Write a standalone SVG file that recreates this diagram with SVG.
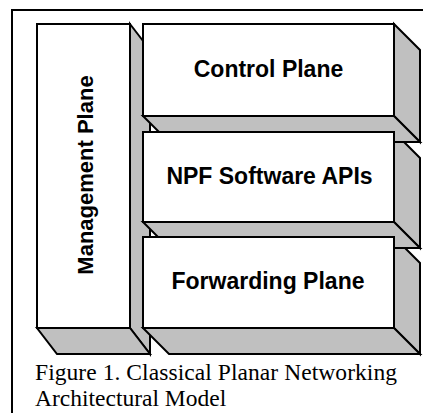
<svg xmlns="http://www.w3.org/2000/svg" width="433" height="413" viewBox="0 0 433 413">
<style>
.face{fill:#c0c0c0;stroke:#000;stroke-width:2;stroke-linejoin:miter}
.front{fill:#fff;stroke:#000;stroke-width:2}
.lbl{font-family:"Liberation Sans",Arial,sans-serif;font-weight:bold;font-size:23px;fill:#000;text-anchor:middle}
.vlbl{font-size:22px}
.cap{font-family:"Liberation Serif","Times New Roman",serif;font-size:23.5px;fill:#000}
</style>
<rect width="433" height="413" fill="#fff"/>
<g id="frame">
<path d="M12,413 V10 H423" fill="none" stroke="#000" stroke-width="2"/>
</g>
<g id="management-plane">
<polygon class="face" points="130,24 150,50 150,354 130,328"/>
<polygon class="face" points="37,328 130,328 150,354 57,354"/>
<rect class="front" x="37" y="24" width="93" height="304"/>
<text class="lbl vlbl" x="92.5" y="175" transform="rotate(-90 92.5 175)">Management Plane</text>
</g>
<g id="forwarding-plane-faces">
<polygon class="face" points="394,237 420,263 420,354 394,328"/>
<polygon class="face" points="143,328 394,328 420,354 169,354"/>
</g>
<g id="npf-faces">
<polygon class="face" points="394,132 420,158 420,248 394,222"/>
<polygon class="face" points="143,222 394,222 420,248 169,248"/>
</g>
<g id="control-plane">
<polygon class="face" points="394,24 420,50 420,142 394,116"/>
<polygon class="face" points="143,116 394,116 420,142 169,142"/>
<rect class="front" x="143" y="24" width="251" height="92"/>
<text class="lbl" x="268.5" y="77">Control Plane</text>
</g>
<g id="npf-software-apis">
<rect class="front" x="143" y="132" width="251" height="90"/>
<text class="lbl" x="269.5" y="183.5">NPF Software APIs</text>
</g>
<g id="forwarding-plane">
<rect class="front" x="143" y="237" width="251" height="91"/>
<text class="lbl" x="268" y="288.5">Forwarding Plane</text>
</g>
<g id="connectors"/>
<g id="caption">
<text class="cap" x="35" y="380" textLength="362">Figure 1. Classical Planar Networking</text>
<text class="cap" x="35" y="406">Architectural Model</text>
</g>
</svg>
